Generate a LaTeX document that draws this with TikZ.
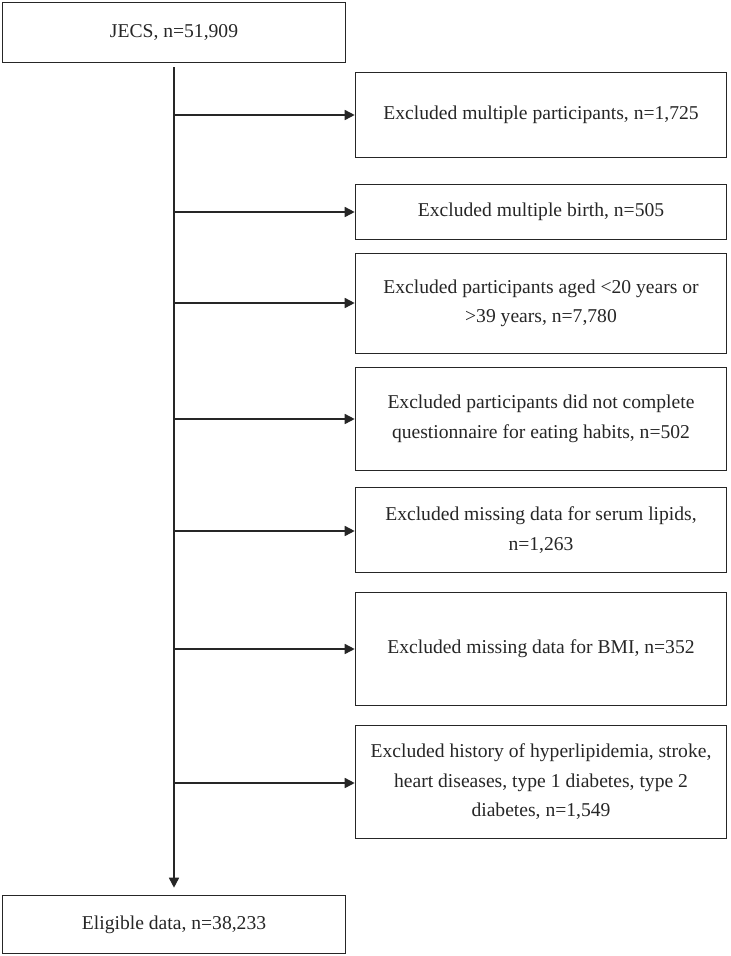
\documentclass[tikz,border=0pt]{standalone}
\usepackage{fontspec}
\setmainfont{Liberation Serif}
\usetikzlibrary{arrows.meta}
\begin{document}
\begin{tikzpicture}[x=1pt,y=-1pt,
  box/.style={draw=black!85, line width=1.6pt, rectangle, inner sep=0pt, align=center,
    font=\fontsize{19.6}{29.5}\selectfont, text=black!85},
  mainbox/.style={box, minimum width=343pt},
  exbox/.style={box, minimum width=371pt},
  conn/.style={draw=black!85, line width=1.6pt, -{Triangle[length=10pt,width=10pt]}}]
\useasboundingbox (0,0) rectangle (731,956);
\node[mainbox, minimum height=60pt] (top) at (174,32.5) {JECS, n=51,909};
\node[mainbox, minimum height=58pt] (bot) at (174,924.5) {Eligible data, n=38,233};
\node[exbox, minimum height=85pt] (e1) at (541,115) {Excluded multiple participants, n=1,725};
\node[exbox, minimum height=55pt] (e2) at (541,212) {Excluded multiple birth, n=505};
\node[exbox, minimum height=100pt] (e3) at (541,303.5) {Excluded participants aged <20 years or\\>39 years, n=7,780};
\node[exbox, minimum height=103pt] (e4) at (541,419) {Excluded participants did not complete\\questionnaire for eating habits, n=502};
\node[exbox, minimum height=85pt] (e5) at (541,530) {Excluded missing data for serum lipids,\\n=1,263};
\node[exbox, minimum height=113pt] (e6) at (541,649) {Excluded missing data for BMI, n=352};
\node[exbox, minimum height=113pt] (e7) at (541,782) {Excluded history of hyperlipidemia, stroke,\\heart diseases, type 1 diabetes, type 2\\diabetes, n=1,549};
\draw[conn, shorten <=4pt, shorten >=7pt] (top.south) -- (bot.north);
\coordinate (c1) at (174,115);
\coordinate (c2) at (174,212);
\coordinate (c3) at (174,303);
\coordinate (c4) at (174,419);
\coordinate (c5) at (174,531);
\coordinate (c6) at (174,649);
\coordinate (c7) at (174,783);
\foreach \i in {1,...,7} {
  \draw[conn] (c\i) -- (c\i -| e\i.west);
}
\end{tikzpicture}
\end{document}
